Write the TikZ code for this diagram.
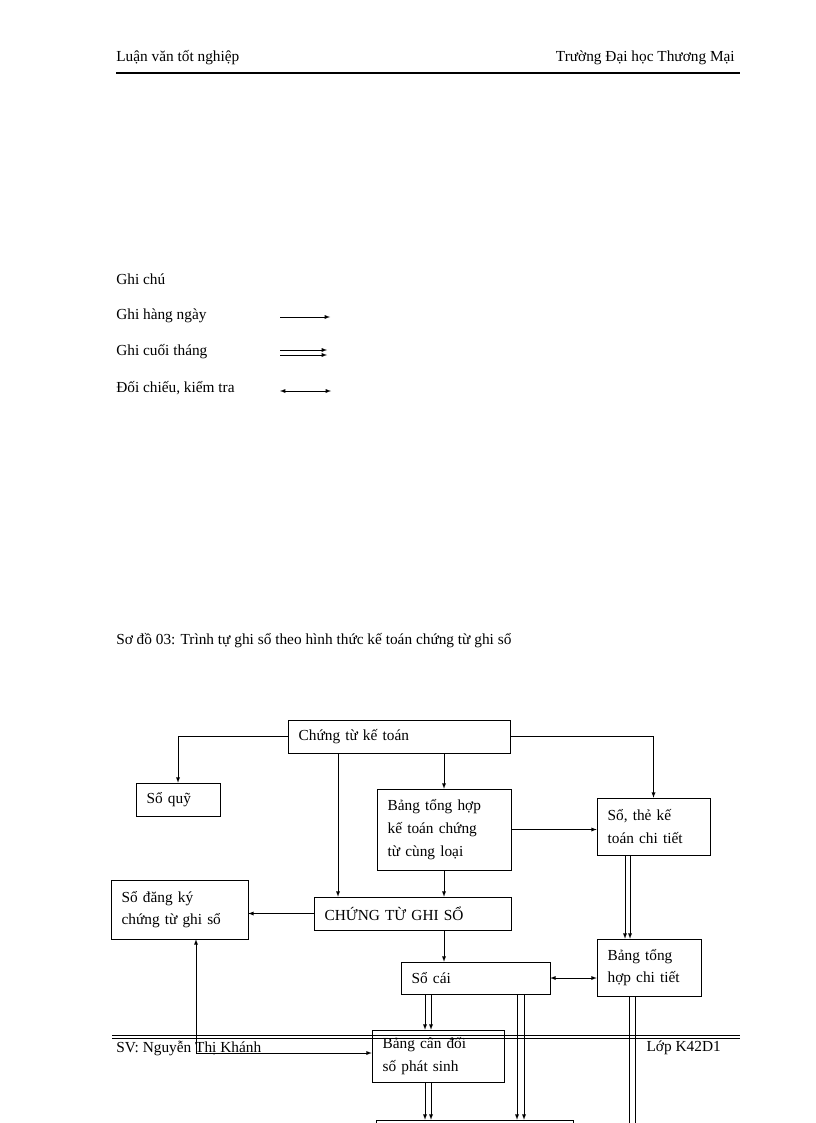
\documentclass[tikz,border=0pt]{standalone}
\usepackage{fontspec}
\setmainfont{Liberation Serif}
\tikzset{>=latex}
\usetikzlibrary{calc,arrows}
% box given by its pixel corners
\newcommand{\bx}[6]{\node[box, minimum width={(#4-#2)*0.75pt}, minimum height={(#5-#3)*0.75pt},
  text width={(#4-#2)*0.75pt-16pt}] (#1) at ({(#2+#4)/2},{(#3+#5)/2}) {#6};}

\begin{document}
\begin{tikzpicture}[x=0.75pt,y=-0.75pt,font=\fontsize{11.5}{17}\selectfont]
  \tikzstyle{box}=[draw, thin, inner sep=0pt, align=left]
  \tikzstyle{ar}=[->, thin]
  \tikzstyle{txt}=[anchor=west, inner sep=0pt]
  \useasboundingbox (0,0) rectangle (816,1123);
  \clip (0,0) rectangle (816,1123);
  % header and footer
  \node[txt] (hl) at (116,58) {Luận văn tốt nghiệp};
  \node[txt, anchor=east] (hr) at (735,58) {Trường Đại học Thương Mại};
  \draw[line width=1.5pt] (116,73) -- (740,73);
  \draw (112,1035) -- (740,1035);
  \draw (112,1038) -- (740,1038);
  \node[txt] (fl) at (116,1048) {SV: Nguyễn Thị Khánh};
  \node[txt, anchor=east] (fr) at (721,1048) {Lớp K42D1};
  % legend
  \node[txt] (gc) at (116,279) {Ghi chú};
  \node[txt] (g1) at (116,316) {Ghi hàng ngày};
  \node[txt] (g2) at (116,352) {Ghi cuối tháng};
  \node[txt] (g3) at (116,388) {Đối chiếu, kiểm tra};
  \draw[ar] (280,317) -- (330,317);
  \draw[ar] (280,350) -- (327,350);
  \draw[ar] (280,355) -- (327,355);
  \draw[<->] (280,391) -- (331,391);
  \node[txt] (cap) at (116,641) {Sơ đồ 03: Trình tự ghi sổ theo hình thức kế toán chứng từ ghi sổ};
  % boxes
  \bx{ctkt}{288}{720}{510}{753}{Chứng từ kế toán}
  \bx{soquy}{136}{783}{220}{816}{Sổ quỹ}
  \bx{bth}{377}{789}{511}{870}{Bảng tổng hợp\\kế toán chứng\\từ cùng loại}
  \bx{sothe}{597}{798}{710}{855}{Sổ, thẻ kế\\toán chi tiết}
  \bx{sodk}{111}{880}{248}{939}{Sổ đăng ký\\chứng từ ghi sổ}
  \bx{ctgs}{314}{897}{511}{930}{CHỨNG TỪ GHI SỔ}
  \bx{socai}{401}{962}{550}{994}{Sổ cái}
  \bx{bthct}{597}{939}{701}{996}{Bảng tổng\\hợp chi tiết}
  \bx{bcd}{372}{1030}{504}{1082}{Bảng cân đối\\số phát sinh}
  \bx{bctc}{376}{1120}{573}{1160}{}
  % daily
  \draw[ar] (ctkt.west) -| (soquy.north);
  \draw[ar] (ctkt.east) -| (sothe.north);
  \draw[ar] (ctkt.south -| 338,0) -- (ctgs.north -| 338,0);
  \draw[ar] (ctkt.south -| bth.north) -- (bth.north);
  \draw[ar] (bth.east) -- (bth.east -| sothe.west);
  \draw[ar] (bth.south) -- (bth.south |- ctgs.north);
  \draw[ar] (ctgs.west) -- (ctgs.west -| sodk.east);
  \draw[ar] (ctgs.south -| bth.south) -- (socai.north -| bth.south);
  % month end
  \foreach \x in {625,630} \draw[ar] (sothe.south -| \x,0) -- (bthct.north -| \x,0);
  \foreach \x in {425,431} \draw[ar] (socai.south -| \x,0) -- (bcd.north -| \x,0);
  \foreach \x in {517,524} \draw[ar] (socai.south -| \x,0) -- (bctc.north -| \x,0);
  \foreach \x in {425,431} \draw[ar] (bcd.south -| \x,0) -- (bctc.north -| \x,0);
  \foreach \x in {629,635} \draw (bthct.south -| \x,0) -- (\x,1130);
  % check
  \draw[<->] (socai.east) -- (socai.east -| bthct.west);
  \coordinate (k) at (196,1053);
  \draw[<->] (sodk.south -| k) -- (k) -- (k -| bcd.west);
\end{tikzpicture}
\end{document}
